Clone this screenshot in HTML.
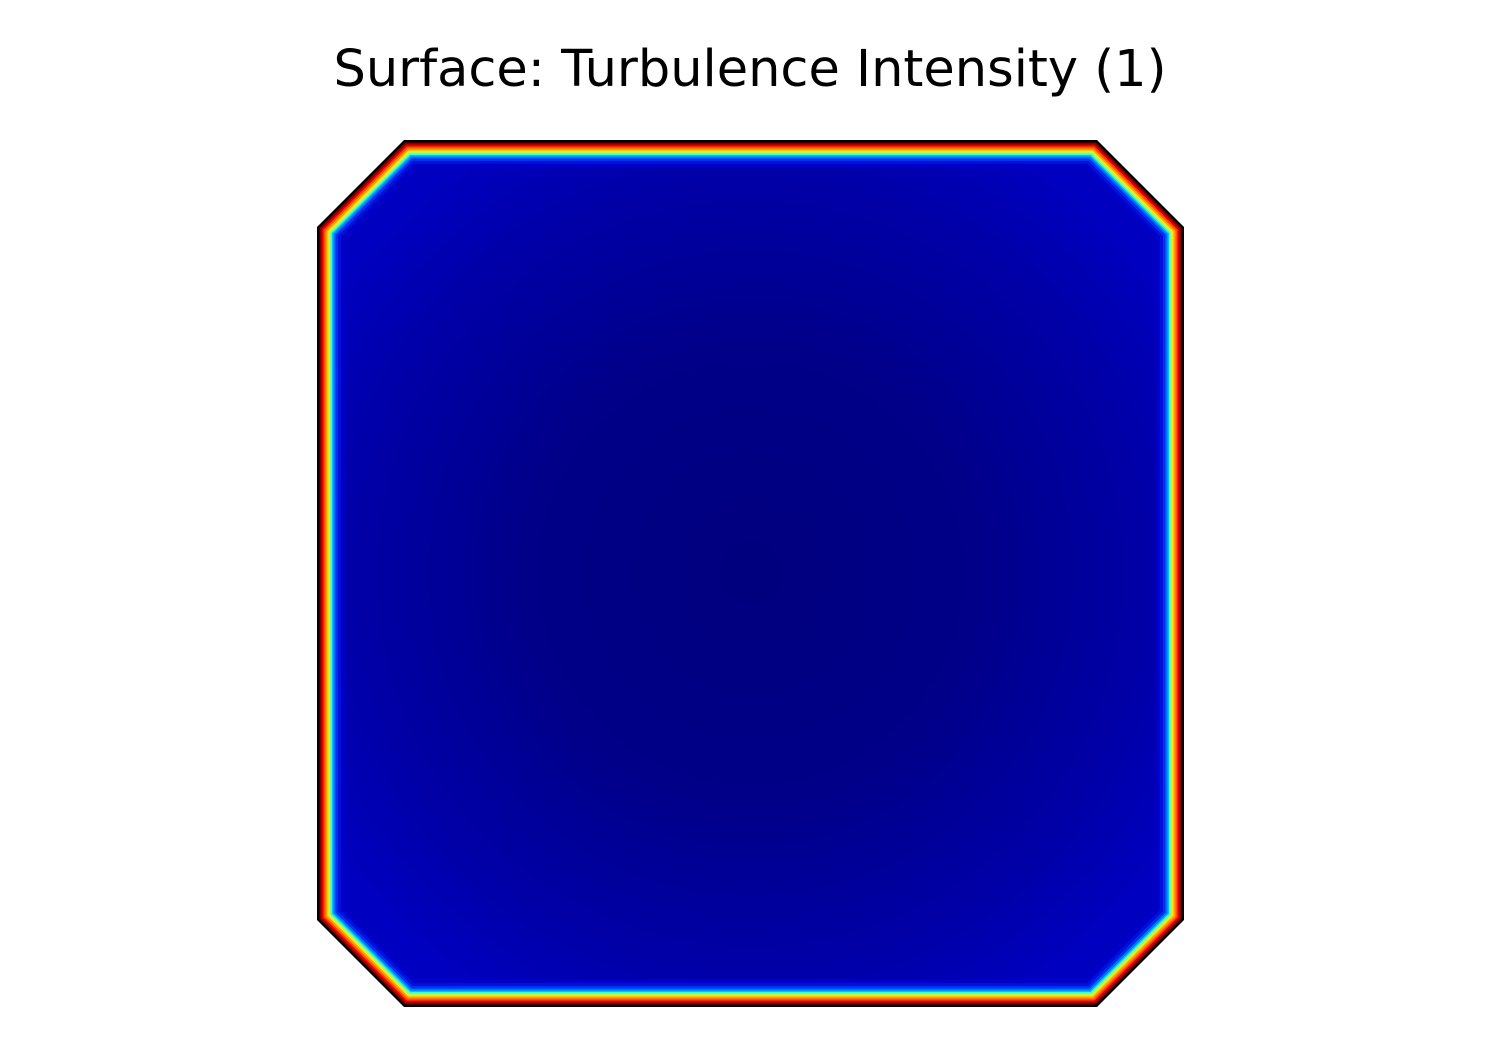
<!DOCTYPE html>
<html><head><meta charset="utf-8"><style>
html,body{margin:0;padding:0;background:#fff;}
#wrap{position:relative;width:1500px;height:1050px;}
</style></head><body>
<div id="wrap">
<svg id="svg" width="1500" height="1050" xmlns="http://www.w3.org/2000/svg">
<defs>
<radialGradient id="core" cx="50%" cy="50%" r="62%">
<stop offset="0" stop-color="#00007e"/>
<stop offset="0.45" stop-color="#000088"/>
<stop offset="0.8" stop-color="#0000a8"/>
<stop offset="1" stop-color="#0000c0"/>
</radialGradient>
</defs>
<text x="750" y="86" text-anchor="middle" font-family="DejaVu Sans, Liberation Sans, sans-serif" font-size="51" fill="#000">Surface: Turbulence Intensity (1)</text>
<g id="bands"></g>
</svg>
</div>
<script>
// band colors from wall (max intensity) inward, and inset distances (px)
const bandColors = ["#000000","#800000","#e00000","#ff5000","#ffa000","#ffe020","#b0ff50","#40ffc0","#00c0ff","#0070ff","#0030f0","#0010d8","#0000c8"];
const bandInsets = [0,2.5,4.5,6.5,8.5,10.5,12,13.5,15,16.5,18.5,21,24];
const L=317,R=1184,T=140,B=1007,C=87;
function oct(d){
  const c=C-0.586*d;
  const l=L+d,r=R-d,t=T+d,b=B-d;
  return [[l+c,t],[r-c,t],[r,t+c],[r,b-c],[r-c,b],[l+c,b],[l,b-c],[l,t+c]].map(p=>p.join(',')).join(' ');
}
const g=document.getElementById('bands');
const NS='http://www.w3.org/2000/svg';
bandColors.forEach((col,i)=>{
  const p=document.createElementNS(NS,'polygon');
  p.setAttribute('points',oct(bandInsets[i]));
  p.setAttribute('fill',col);
  
  
  g.appendChild(p);
});
const core=document.createElementNS(NS,'polygon');
core.setAttribute('points',oct(28));
core.setAttribute('fill','url(#core)');


g.appendChild(core);
</script>
</body></html>
